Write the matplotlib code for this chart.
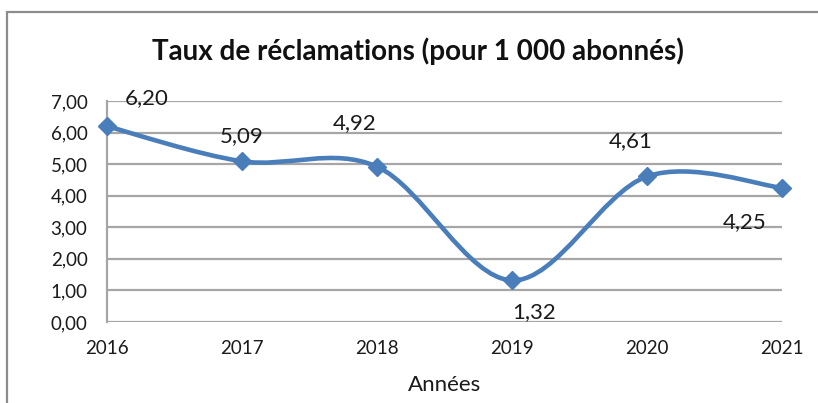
import matplotlib
matplotlib.use("Agg")
import matplotlib.pyplot as plt
from matplotlib.path import Path
from matplotlib.patches import PathPatch, Rectangle
import numpy as np

years = [2016, 2017, 2018, 2019, 2020, 2021]
values = [6.20, 5.09, 4.92, 1.32, 4.61, 4.25]
labels = ["6,20", "5,09", "4,92", "1,32", "4,61", "4,25"]
yticks = [0, 1, 2, 3, 4, 5, 6, 7]
ytick_labels = ["0,00", "1,00", "2,00", "3,00", "4,00", "5,00", "6,00", "7,00"]

plt.rcParams['font.family'] = ['Lato', 'DejaVu Sans']
BLUE = "#4a7ebb"
GRID = "#a6a6a6"
TXT = "#1a1a1a"

W, H = 818, 403
fig = plt.figure(figsize=(W / 100, H / 100), dpi=100)
fig.patches.append(Rectangle((7 / W, -0.1), 1.2, 1 - 12 / H + 0.1, transform=fig.transFigure,
                             fill=False, edgecolor="#8c8c8c", linewidth=1.6))

ax = fig.add_axes([107 / W, 1 - 322 / H, (782 - 107) / W, (322 - 101) / H])
ax.set_xlim(years[0], years[-1])
ax.set_ylim(0, 7)

# smoothed line (Catmull-Rom style cubic Bezier like Excel)
x = np.array(years, dtype=float)
y = np.array(values, dtype=float)
verts = [(x[0], y[0])]
codes = [Path.MOVETO]
n = len(x)
for i in range(n - 1):
    p0 = (x[i - 1], y[i - 1]) if i > 0 else (x[i], y[i])
    p1 = (x[i], y[i])
    p2 = (x[i + 1], y[i + 1])
    p3 = (x[i + 2], y[i + 2]) if i + 2 < n else (x[i + 1], y[i + 1])
    c1 = (p1[0] + (p2[0] - p0[0]) / 6, p1[1] + (p2[1] - p0[1]) / 6)
    c2 = (p2[0] - (p3[0] - p1[0]) / 6, p2[1] - (p3[1] - p1[1]) / 6)
    verts += [c1, c2, p2]
    codes += [Path.CURVE4] * 3
ax.add_patch(PathPatch(Path(verts, codes), facecolor="none", edgecolor=BLUE,
                       linewidth=3.3, capstyle="round", joinstyle="round", clip_on=False, zorder=3))
ax.plot(years, values, linestyle="none", marker="D", markersize=9.5, color=BLUE,
        clip_on=False, zorder=4)

# label offsets in points (dx, dy, ha), vertical alignment at baseline
offsets = [(13, 16, "left"), (0, 14, "center"), (0, 27, "right"),
           (0, -27, "left"), (4, 21, "right"), (-11.5, -29, "right")]
for xv, yv, lab, (dx, dy, ha) in zip(years, values, labels, offsets):
    ax.annotate(lab, (xv, yv), xytext=(dx, dy), textcoords="offset points",
                ha=ha, va="baseline", fontsize=16, color=TXT)

ax.set_yticks(yticks)
ax.set_yticklabels(ytick_labels)
ax.set_xticks(years)
ax.set_xticklabels([str(v) for v in years])
ax.tick_params(axis="both", length=0, labelsize=13.5, colors=TXT)
ax.tick_params(axis="y", pad=14)
ax.tick_params(axis="x", pad=13)
ax.grid(axis="y", color=GRID, linewidth=1.6)
ax.set_axisbelow(True)
for s in ["top", "right", "bottom"]:
    ax.spines[s].set_visible(False)
ax.spines["left"].set_color(GRID)
ax.spines["left"].set_linewidth(1.6)

ax.set_xlabel("Années", fontsize=16, color=TXT)
ax.xaxis.label.set_va("center")
ax.xaxis.set_label_coords(0.5, (322 - 385) / 221)
fig.text(418 / W, 1 - 51 / H, "Taux de réclamations (pour 1 000 abonnés)", ha="center", va="center",
         fontsize=20, fontweight="bold", color="#111111")

fig.savefig("out.png", dpi=100)
